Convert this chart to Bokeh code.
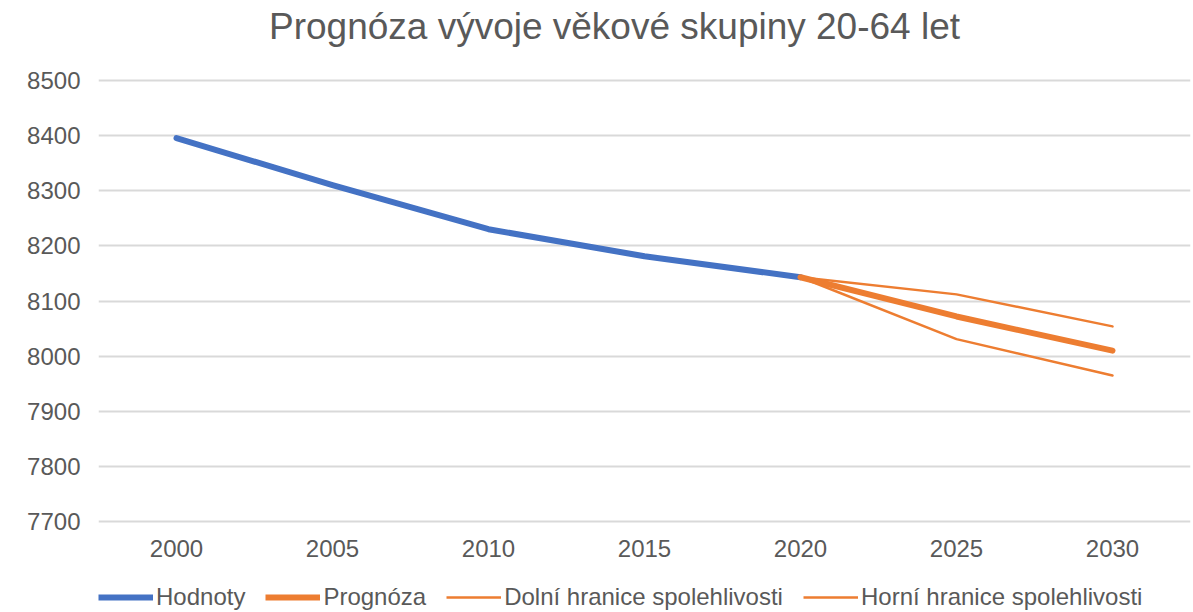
from bokeh.plotting import figure
from bokeh.layouts import column
from bokeh.models import FixedTicker, Legend, LegendItem, Range1d
from bokeh.core.properties import value
from bokeh.embed import file_html
from bokeh.resources import INLINE

years_hist = [2000, 2005, 2010, 2015, 2020]
hodnoty = [8395, 8310, 8230, 8181, 8143]
years_fc = [2020, 2025, 2030]
prognoza = [8143, 8072, 8010]
dolni = [8143, 8031, 7965]
horni = [8143, 8112, 8054]
x_ticks = [2000, 2005, 2010, 2015, 2020, 2025, 2030]
y_ticks = [7700, 7800, 7900, 8000, 8100, 8200, 8300, 8400, 8500]
series_names = ["Hodnoty", "Prognóza", "Dolní hranice spolehlivosti", "Horní hranice spolehlivosti"]
title_text = "Prognóza vývoje věkové skupiny 20-64 let"

FONT = "Liberation Sans"
GREY = "#595959"
BLUE = "#4472C4"
ORANGE = "#ED7D31"


def strip(height, xr, yr):
    f = figure(width=1193, height=height, output_backend="svg", toolbar_location=None,
               x_range=xr, y_range=yr,
               min_border_left=98, min_border_right=3, min_border_top=0, min_border_bottom=0)
    f.xaxis.visible = False
    f.yaxis.visible = False
    f.grid.visible = False
    f.outline_line_color = None
    f.background_fill_color = "white"
    f.border_fill_color = "white"
    return f


# title strip
t = strip(56, Range1d(98, 1190), Range1d(0, 56))
t.text(x=[614], y=[30], text=[title_text], text_align="center", text_baseline="alphabetic",
       text_font=value(FONT), text_font_size="37px", text_color=GREY)

# main chart
p = figure(width=1193, height=510, output_backend="svg", toolbar_location=None,
           x_range=Range1d(1997.5, 2032.5), y_range=Range1d(7697, 8503),
           min_border_left=98, min_border_right=3, min_border_top=22,
           min_border_bottom=43)
p.outline_line_color = None
p.background_fill_color = "white"
p.border_fill_color = "white"

p.xaxis.ticker = FixedTicker(ticks=x_ticks)
p.yaxis.ticker = FixedTicker(ticks=y_ticks)
for ax in (p.xaxis, p.yaxis):
    ax.axis_line_color = None
    ax.major_tick_line_color = None
    ax.minor_tick_line_color = None
    ax.major_tick_out = 0
    ax.major_tick_in = 0
    ax.major_label_text_font = FONT
    ax.major_label_text_font_size = "24px"
    ax.major_label_text_color = GREY
p.xaxis.major_label_standoff = 16
p.yaxis.major_label_standoff = 18

p.xgrid.grid_line_color = None
p.ygrid.grid_line_color = "#D9D9D9"
p.ygrid.grid_line_width = 2

p.line(years_hist, hodnoty, line_color=BLUE, line_width=6, line_cap="round", line_join="round")
p.line(years_fc, dolni, line_color=ORANGE, line_width=2.5, line_cap="round", line_join="round")
p.line(years_fc, horni, line_color=ORANGE, line_width=2.5, line_cap="round", line_join="round")
p.line(years_fc, prognoza, line_color=ORANGE, line_width=6, line_cap="round", line_join="round")

# legend strip (series drawn out of view, only their legend entries show)
lg = strip(46, Range1d(0, 1), Range1d(0, 1))
series = [(years_hist, hodnoty, BLUE, 6), (years_fc, prognoza, ORANGE, 6),
          (years_fc, dolni, ORANGE, 2.5), (years_fc, horni, ORANGE, 2.5)]
items = []
for name, (xs, ys, col, w) in zip(series_names, series):
    r = lg.line(xs, ys, line_color=col, line_width=w)
    items.append(LegendItem(label=name, renderers=[r]))

legend = Legend(items=items, orientation="horizontal", location=(0, 1))
legend.border_line_color = None
legend.background_fill_alpha = 0
legend.glyph_width = 55
legend.glyph_height = 20
legend.label_height = 24
legend.label_standoff = 3
legend.spacing = 20
legend.padding = 0
legend.margin = 0
legend.label_text_font = FONT
legend.label_text_font_size = "24px"
legend.label_text_color = GREY
lg.add_layout(legend, "center")

layout = column(t, p, lg, spacing=0)
open("out.html", "w").write(file_html(layout, INLINE))
